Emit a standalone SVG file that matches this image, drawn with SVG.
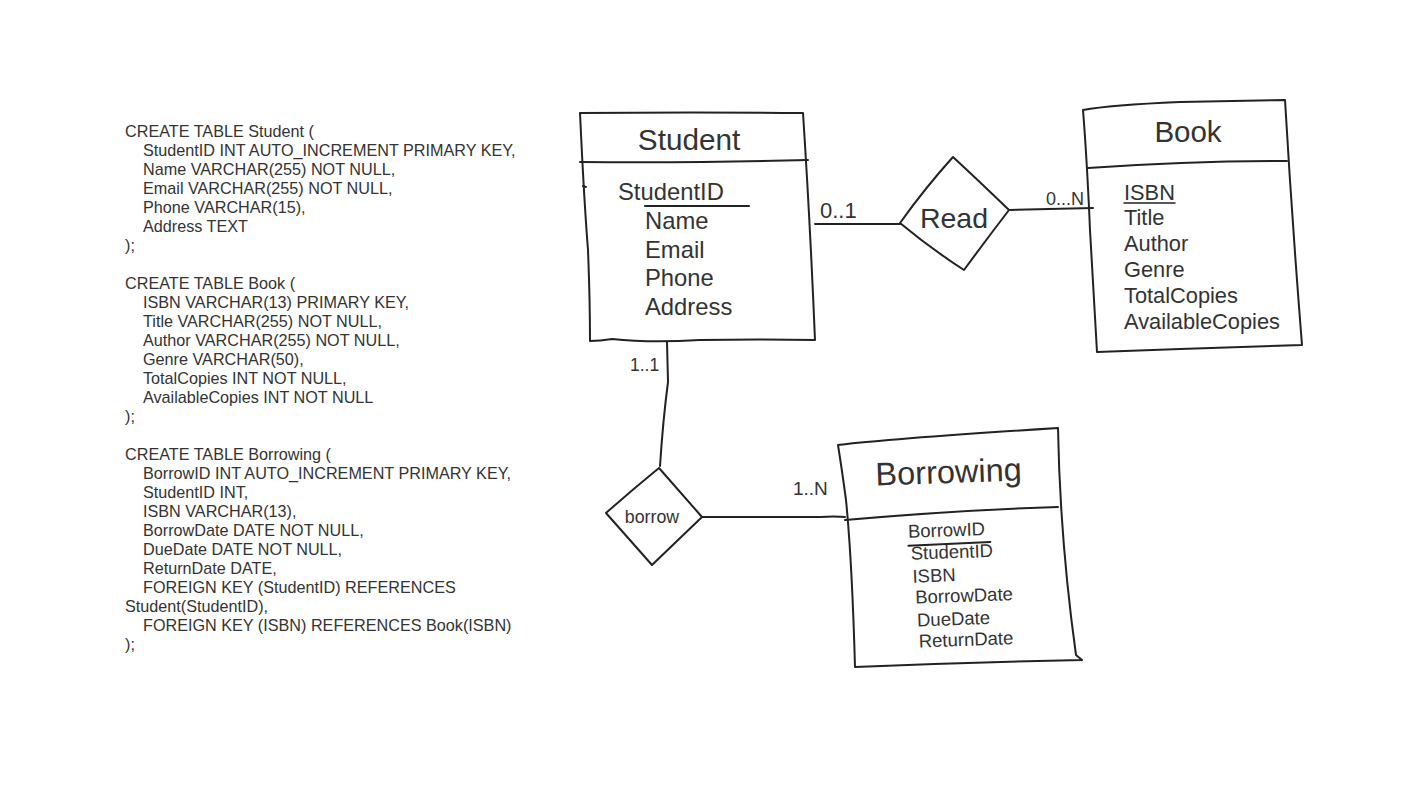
<svg xmlns="http://www.w3.org/2000/svg" width="1422" height="800" viewBox="0 0 1422 800">
<style>
text{font-family:"Liberation Sans",Arial,sans-serif;fill:#333}
.sql{font-size:16.2px}
.sk{fill:none;stroke:#222;stroke-width:2;stroke-linejoin:round;stroke-linecap:round}
.attr{font-size:23.8px}
.lbl{font-size:18px}
.ba{font-size:18.5px}
.bk{font-size:21.8px}
</style>
<rect width="1422" height="800" fill="#fff"/>
<g id="sql">
<text class="sql" x="125" y="137">CREATE TABLE Student (</text>
<text class="sql" x="143" y="156">StudentID INT AUTO_INCREMENT PRIMARY KEY,</text>
<text class="sql" x="143" y="175">Name VARCHAR(255) NOT NULL,</text>
<text class="sql" x="143" y="194">Email VARCHAR(255) NOT NULL,</text>
<text class="sql" x="143" y="213">Phone VARCHAR(15),</text>
<text class="sql" x="143" y="232">Address TEXT</text>
<text class="sql" x="125" y="251">);</text>
<text class="sql" x="125" y="289">CREATE TABLE Book (</text>
<text class="sql" x="143" y="308">ISBN VARCHAR(13) PRIMARY KEY,</text>
<text class="sql" x="143" y="327">Title VARCHAR(255) NOT NULL,</text>
<text class="sql" x="143" y="346">Author VARCHAR(255) NOT NULL,</text>
<text class="sql" x="143" y="365">Genre VARCHAR(50),</text>
<text class="sql" x="143" y="384">TotalCopies INT NOT NULL,</text>
<text class="sql" x="143" y="403">AvailableCopies INT NOT NULL</text>
<text class="sql" x="125" y="422">);</text>
<text class="sql" x="125" y="460">CREATE TABLE Borrowing (</text>
<text class="sql" x="143" y="479">BorrowID INT AUTO_INCREMENT PRIMARY KEY,</text>
<text class="sql" x="143" y="498">StudentID INT,</text>
<text class="sql" x="143" y="517">ISBN VARCHAR(13),</text>
<text class="sql" x="143" y="536">BorrowDate DATE NOT NULL,</text>
<text class="sql" x="143" y="555">DueDate DATE NOT NULL,</text>
<text class="sql" x="143" y="574">ReturnDate DATE,</text>
<text class="sql" x="143" y="593">FOREIGN KEY (StudentID) REFERENCES</text>
<text class="sql" x="125" y="612">Student(StudentID),</text>
<text class="sql" x="143" y="631">FOREIGN KEY (ISBN) REFERENCES Book(ISBN)</text>
<text class="sql" x="125" y="650">);</text>
</g>
<g id="connectors">
<path class="sk" d="M815,224 L900,224"/>
<text x="820" y="218" style="font-size:22px">0..1</text>
<path class="sk" d="M1009,210 Q1050,209 1093,208"/>
<text class="lbl" x="1046" y="205">0...N</text>
<path class="sk" d="M667,342 L668,382 Q663,420 660,466"/>
<text x="630" y="371" style="font-size:17.5px">1..1</text>
<path class="sk" d="M702,517 L820,517 Q835,516 845,517"/>
<text class="lbl" x="793" y="495" style="font-size:19px">1..N</text>
</g>
<g id="student">
<path class="sk" d="M580,113 Q690,112 803,113 Q810,220 815,340 Q760,339 700,340 Q650,343 612,339 Q600,341 590,341 Q590,300 588,250 Q584,200 580,113 Z"/>
<path class="sk" d="M580,162 Q700,163 808,160"/>
<path class="sk" d="M583,186 L586,187"/>
<text x="689" y="150" text-anchor="middle" style="font-size:29.7px">Student</text>
<text class="attr" x="618" y="200">StudentID</text>
<path class="sk" d="M645,206 L749,206"/>
<text class="attr" x="645" y="229">Name</text>
<text class="attr" x="645" y="258">Email</text>
<text class="attr" x="645" y="286">Phone</text>
<text class="attr" x="645" y="315">Address</text>
</g>
<g id="read">
<path class="sk" d="M900,223 Q925,188 953,157 Q980,182 1009,210 Q986,240 964,270 Q930,248 900,223 Z"/>
<text x="954" y="228" text-anchor="middle" style="font-size:28.5px">Read</text>
</g>
<g id="book">
<path class="sk" d="M1083,110 Q1110,105 1180,102 Q1240,101 1285,100 Q1292,220 1302,345 Q1200,348 1097,352 Q1094,300 1090,230 Q1087,160 1083,110 Z"/>
<path class="sk" d="M1088,168 Q1190,161 1287,161"/>
<text x="1188" y="142" text-anchor="middle" style="font-size:29.5px">Book</text>
<text class="bk" x="1124" y="200">ISBN</text>
<path class="sk" d="M1124,203 L1175,203" style="stroke-width:1.5"/>
<text class="bk" x="1124" y="225">Title</text>
<text class="bk" x="1124" y="251">Author</text>
<text class="bk" x="1124" y="277">Genre</text>
<text class="bk" x="1124" y="303">TotalCopies</text>
<text class="bk" x="1124" y="329">AvailableCopies</text>
</g>
<g id="borrow">
<path class="sk" d="M659,468 Q632,490 606,513 Q630,540 652,565 Q677,541 702,517 Q680,492 659,468 Z"/>
<text x="652" y="523" text-anchor="middle" style="font-size:17.8px">borrow</text>
</g>
<g id="borrowing">
<path class="sk" d="M838,445 Q900,438 1058,428 Q1060,540 1076,655 L1082,660 Q970,662 855,667 Q852,560 846,500 Q842,470 838,445 Z"/>
<path class="sk" d="M845,520 Q960,510 1058,507"/>
<text x="949" y="483" text-anchor="middle" transform="rotate(-2 949 483)" style="font-size:32.5px">Borrowing</text>
<g transform="rotate(-2 960 590)">
<text class="ba" x="910" y="536">BorrowID</text>
<path class="sk" d="M910,544 L992,543"/>
<text class="ba" x="912" y="558">StudentID</text>
<text class="ba" x="913" y="581">ISBN</text>
<text class="ba" x="915" y="602">BorrowDate</text>
<text class="ba" x="916" y="625">DueDate</text>
<text class="ba" x="917" y="646">ReturnDate</text>
</g>
</g>
</svg>
